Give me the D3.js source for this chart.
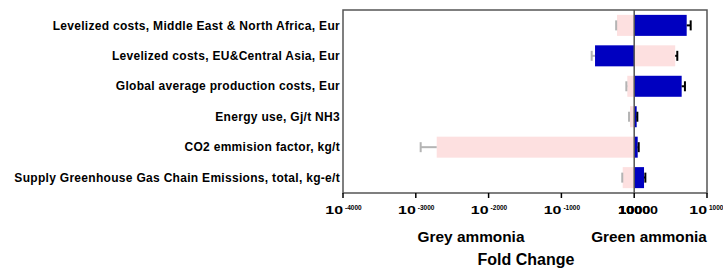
<!DOCTYPE html>
<html>
<head>
<meta charset="utf-8">
<script src="https://cdn.jsdelivr.net/npm/d3@7"></script>
<style>
  body { margin: 0; background: #fff; }
  text { font-family: "Liberation Sans", Arial, sans-serif; font-weight: bold; fill: #000; }
</style>
</head>
<body>
<div id="chart"></div>
<script>
// Fold change chart, values are log10 exponents
const categories = [
    "Levelized costs, Middle East & North Africa, Eur",
    "Levelized costs, EU&Central Asia, Eur",
    "Global average production costs, Eur",
    "Energy use, Gj/t NH3",
    "CO2 emmision factor, kg/t",
    "Supply Greenhouse Gas Chain Emissions, total, kg-e/t"
];
const greyValues = [-236, 563, -95, -58, -2713, -158];
const greyErrors = [12, 29, 13, 13, 220, 6];
const greenValues = [721, -538, 652, 34, 48, 135];
const greenErrors = [55, 46, 45, 9, 14, 18];
const tickValues = [-4000, -3000, -2000, -1000, 0, 1000];
const tickExponents = ["-4000", "-3000", "-2000", "-1000", "0", "1000"];

const width = 723, height = 271;
const margin = { top: 10, right: 16, bottom: 78, left: 343 };

const svg = d3.select("#chart")
    .append("svg")
    .attr("width", width)
    .attr("height", height);

const xScale = d3.scaleLinear()
    .domain([-4000, 1000])
    .range([margin.left, width - margin.right]);

const yScale = d3.scaleBand()
    .domain(categories)
    .range([margin.top, height - margin.bottom])
    .paddingInner(0.31)
    .paddingOuter(0.16);

const bottom = height - margin.bottom;

// Frame
svg.append("rect")
    .attr("x", margin.left)
    .attr("y", margin.top)
    .attr("width", xScale(1000) - margin.left)
    .attr("height", bottom - margin.top)
    .attr("fill", "none")
    .attr("stroke", "#555")
    .attr("stroke-width", 1.5);

// Bars
const rows = categories.map((c, i) => ({
    cat: c,
    grey: greyValues[i], greyErr: greyErrors[i],
    green: greenValues[i], greenErr: greenErrors[i]
}));

function drawSeries(key, errKey, color) {
    svg.append("g").selectAll("rect")
        .data(rows)
        .join("rect")
        .attr("x", d => Math.min(xScale(0), xScale(d[key])))
        .attr("y", d => yScale(d.cat))
        .attr("width", d => Math.abs(xScale(d[key]) - xScale(0)))
        .attr("height", yScale.bandwidth())
        .attr("fill", color);

    // Error bars: grey on the negative side, black on the positive side
    const err = svg.append("g").selectAll("g")
        .data(rows)
        .join("g")
        .attr("stroke", d => d[key] < 0 ? "#b4b4b4" : "#000")
        .attr("stroke-width", 2);
    const tip = d => d[key] + Math.sign(d[key]) * d[errKey];
    const mid = d => yScale(d.cat) + yScale.bandwidth() / 2;
    err.append("line")
        .attr("x1", d => xScale(d[key]))
        .attr("x2", d => xScale(tip(d)))
        .attr("y1", mid)
        .attr("y2", mid);
    err.append("line")
        .attr("x1", d => xScale(tip(d)))
        .attr("x2", d => xScale(tip(d)))
        .attr("y1", d => mid(d) - 5)
        .attr("y2", d => mid(d) + 5);
}

drawSeries("grey", "greyErr", "#fde0e0");
drawSeries("green", "greenErr", "#0000c0");

// Zero line
svg.append("line")
    .attr("x1", xScale(0))
    .attr("x2", xScale(0))
    .attr("y1", margin.top)
    .attr("y2", bottom)
    .attr("stroke", "#555")
    .attr("stroke-width", 1.5);

// Category labels
svg.append("g").selectAll("text")
    .data(categories)
    .join("text")
    .attr("x", margin.left - 3)
    .attr("y", d => yScale(d) + yScale.bandwidth() / 2)
    .attr("dy", "0.35em")
    .attr("text-anchor", "end")
    .attr("font-size", 12)
    .attr("letter-spacing", "0.3px")
    .text(d => d);

// X axis ticks
svg.append("g").selectAll("line")
    .data(tickValues)
    .join("line")
    .attr("x1", d => xScale(d))
    .attr("x2", d => xScale(d))
    .attr("y1", bottom)
    .attr("y2", bottom + 5)
    .attr("stroke", "#000")
    .attr("stroke-width", 1.5);

// Tick labels: wide "10" ending at the tick, small exponent after it
const tickData = tickValues.map((v, i) => ({ v, e: tickExponents[i] })).filter(d => d.v !== 0);
const tickLabels = svg.append("g").selectAll("g")
    .data(tickData)
    .join("g")
    .attr("transform", d => `translate(${xScale(d.v)}, 214)`);
tickLabels.append("text")
    .attr("transform", "scale(1.45, 1)")
    .attr("text-anchor", "end")
    .attr("font-size", 11)
    .text("10");
tickLabels.append("text")
    .attr("x", 2)
    .attr("y", -4)
    .attr("font-size", 6.5)
    .text(d => d.e);

// Overlapping labels crowded at zero
const zeroLabels = ["10", "100", "1000", "10000"];
svg.append("g").selectAll("text")
    .data(zeroLabels)
    .join("text")
    .attr("transform", (d, i) => `translate(${xScale(0) - 8 + i * 4}, 214) scale(1.3, 1)`)
    .attr("text-anchor", "middle")
    .attr("font-size", 11)
    .text(d => d);

// Group and axis titles
svg.append("text")
    .attr("x", 471)
    .attr("y", 242)
    .attr("text-anchor", "middle")
    .attr("font-size", 15.4)
    .text("Grey ammonia");

svg.append("text")
    .attr("x", 649)
    .attr("y", 242)
    .attr("text-anchor", "middle")
    .attr("font-size", 15.3)
    .text("Green ammonia");

svg.append("text")
    .attr("x", 526)
    .attr("y", 265)
    .attr("text-anchor", "middle")
    .attr("font-size", 16)
    .text("Fold Change");
</script>
</body>
</html>
